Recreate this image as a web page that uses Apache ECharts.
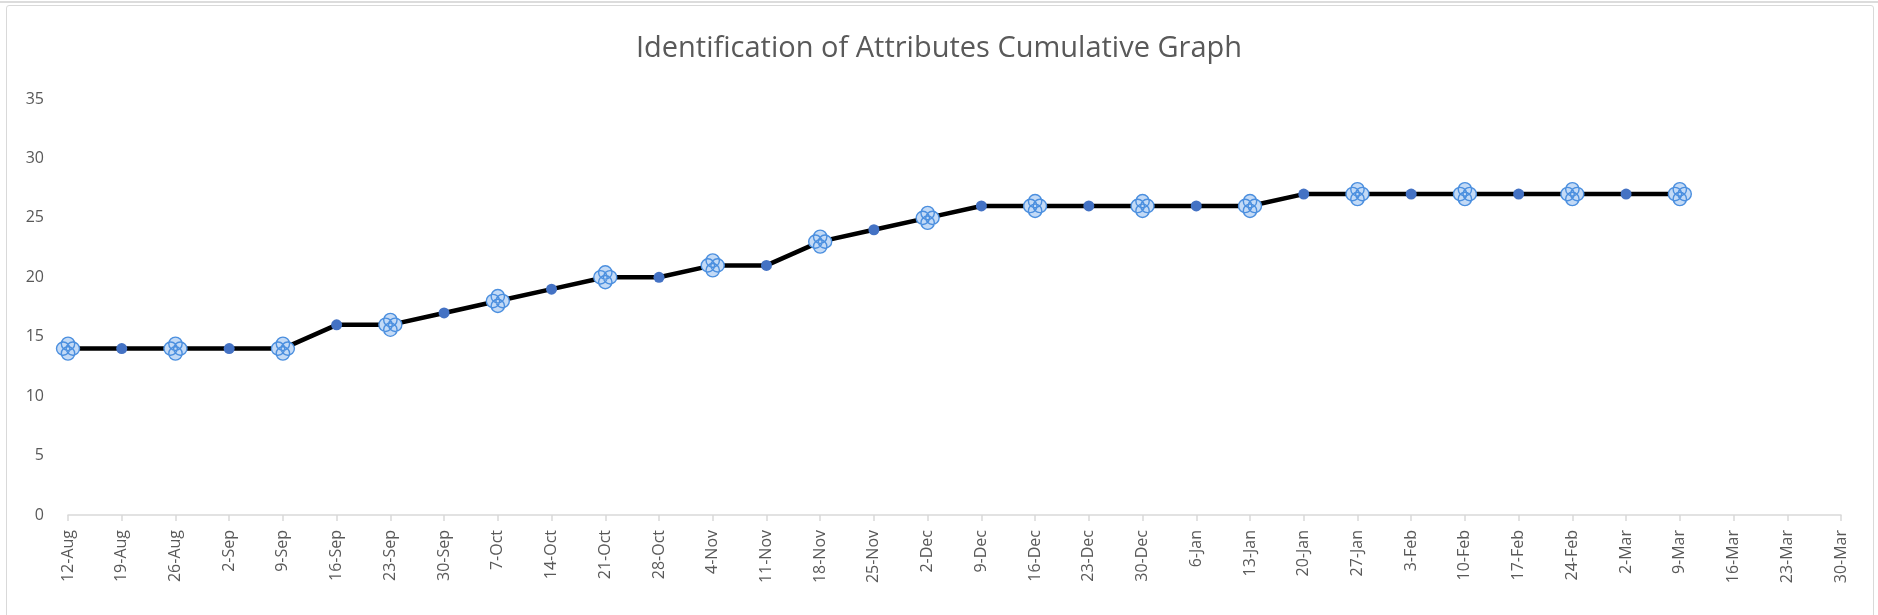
<!DOCTYPE html>
<html>
<head>
<meta charset="utf-8">
<script src="https://cdn.jsdelivr.net/npm/echarts@6/dist/echarts.min.js"></script>
<style>
  html, body { margin: 0; padding: 0; background: #fff; }
  #frame { position: absolute; left: 0; top: 0; width: 1878px; height: 615px; overflow: hidden; }
  #topline { position: absolute; left: 0; top: 1px; width: 1878px; height: 0; border-top: 2px solid #dcdcdc; }
  #box { position: absolute; left: 6px; top: 5px; width: 1866px; height: 640px; border: 1px solid #d9d9d9; border-radius: 3px; }
  #chart { position: absolute; left: 0; top: 0; width: 1878px; height: 615px; }
</style>
</head>
<body>
<div id="frame">
  <div id="topline"></div>
  <div id="box"></div>
  <div id="chart"></div>
</div>
<script>
const categories = ['12-Aug','19-Aug','26-Aug','2-Sep','9-Sep','16-Sep','23-Sep','30-Sep','7-Oct','14-Oct','21-Oct','28-Oct','4-Nov','11-Nov','18-Nov','25-Nov','2-Dec','9-Dec','16-Dec','23-Dec','30-Dec','6-Jan','13-Jan','20-Jan','27-Jan','3-Feb','10-Feb','17-Feb','24-Feb','2-Mar','9-Mar','16-Mar','23-Mar','30-Mar'];
const cumulative = [14,14,14,14,14,16,16,17,18,19,20,20,21,21,23,24,25,26,26,26,26,26,26,27,27,27,27,27,27,27,27];
const yTicks = [0,5,10,15,20,25,30,35];
const titleText = 'Identification of Attributes Cumulative Graph';

const clover = 'path://M4.2,5.8a5.8,5.8 0 1 0 11.6,0a5.8,5.8 0 1 0 -11.6,0Z M8.4,10a5.8,5.8 0 1 0 11.6,0a5.8,5.8 0 1 0 -11.6,0Z M4.2,14.2a5.8,5.8 0 1 0 11.6,0a5.8,5.8 0 1 0 -11.6,0Z M0,10a5.8,5.8 0 1 0 11.6,0a5.8,5.8 0 1 0 -11.6,0Z';

const seriesData = cumulative.map((v, i) => {
  if (i % 2 === 0) {
    return { value: v, symbol: clover, symbolSize: 23,
      itemStyle: { color: '#c3daf6', borderColor: '#4b8fdf', borderWidth: 1.4 } };
  }
  return { value: v, symbol: 'circle', symbolSize: 11,
    itemStyle: { color: '#4472c4', borderColor: '#4472c4', borderWidth: 0 } };
});

const chart = echarts.init(document.getElementById('chart'), null, { renderer: 'canvas' });
chart.setOption({
  animation: false,
  backgroundColor: 'transparent',
  title: {
    text: titleText,
    left: 'center',
    top: 29,
    textStyle: { fontFamily: 'Open Sans', fontSize: 29, fontWeight: 'normal', color: '#595959' }
  },
  grid: { left: 68, right: 37, top: 99, bottom: 100, containLabel: false },
  xAxis: {
    type: 'category',
    data: categories,
    boundaryGap: false,
    axisLine: { show: true, lineStyle: { color: '#d9d9d9', width: 1.5 } },
    axisTick: { show: true, length: 6, lineStyle: { color: '#d9d9d9', width: 1.5 } },
    axisLabel: { rotate: 90, interval: 0, margin: 15, color: '#595959', fontFamily: 'Open Sans', fontSize: 16 },
    splitLine: { show: false }
  },
  yAxis: {
    type: 'value',
    min: yTicks[0],
    max: yTicks[yTicks.length - 1],
    interval: yTicks[1] - yTicks[0],
    axisLine: { show: false },
    axisTick: { show: false },
    splitLine: { show: false },
    axisLabel: { margin: 24, color: '#595959', fontFamily: 'Open Sans', fontSize: 16 }
  },
  series: [{
    type: 'line',
    data: seriesData,
    lineStyle: { color: '#000000', width: 4.5 },
    showAllSymbol: true,
    z: 3
  }]
});
</script>
</body>
</html>
